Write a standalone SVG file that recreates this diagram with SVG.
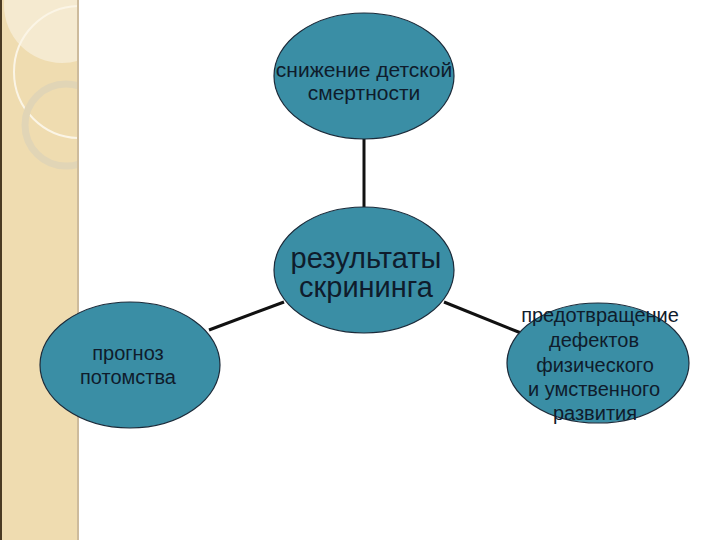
<svg xmlns="http://www.w3.org/2000/svg" width="720" height="540" viewBox="0 0 720 540">
<style>
.node{fill:#3a8ea5;stroke:#1c2b3a;stroke-width:1.2}
.t{font-family:"Liberation Sans",Arial,sans-serif;fill:#0f1c2c;text-anchor:middle}
.conn line{stroke:#111;stroke-width:3}
</style>
<defs>
<clipPath id="band"><rect x="0" y="0" width="78" height="540"/></clipPath>
</defs>
<rect width="720" height="540" fill="#fff"/>
<g id="band-deco">
<rect x="0" y="0" width="78" height="540" fill="#efdcb0"/>
<g clip-path="url(#band)">
<circle cx="62" cy="5" r="58" fill="#f5ead0"/>
<circle cx="80" cy="72" r="66" fill="none" stroke="#fbf5e6" stroke-width="2"/>
<circle cx="66" cy="125" r="41" fill="none" stroke="#e1d5b6" stroke-width="7"/>
</g>
<rect x="0" y="0" width="2" height="540" fill="#4a3a22"/>
<rect x="77" y="0" width="2" height="540" fill="#cdbb9c"/>
</g>
<g id="connectors" class="conn">
<line x1="364" y1="139" x2="364" y2="207"/>
<line x1="209" y1="330" x2="284" y2="302"/>
<line x1="444" y1="302" x2="521" y2="333"/>
</g>
<g id="n-top">
<ellipse class="node" cx="364" cy="76" rx="90" ry="63"/>
<text class="t" x="364" y="77" font-size="21">снижение детской</text>
<text class="t" x="364" y="100" font-size="21">смертности</text>
</g>
<g id="n-center">
<ellipse class="node" cx="364" cy="270" rx="90" ry="63"/>
<text class="t" x="366" y="268" font-size="29">результаты</text>
<text class="t" x="366" y="297" font-size="29">скрининга</text>
</g>
<g id="n-left">
<ellipse class="node" cx="130" cy="365" rx="90" ry="63"/>
<text class="t" x="128" y="360" font-size="20">прогноз</text>
<text class="t" x="128" y="384" font-size="20">потомства</text>
</g>
<g id="n-right">
<ellipse class="node" cx="598" cy="363" rx="91" ry="60"/>
<text class="t" x="600" y="322" font-size="20">предотвращение</text>
<text class="t" x="594" y="347" font-size="20">дефектов</text>
<text class="t" x="595" y="372" font-size="20">физического</text>
<text class="t" x="594" y="396" font-size="20">и умственного</text>
<text class="t" x="595" y="420" font-size="20">развития</text>
</g>
</svg>
